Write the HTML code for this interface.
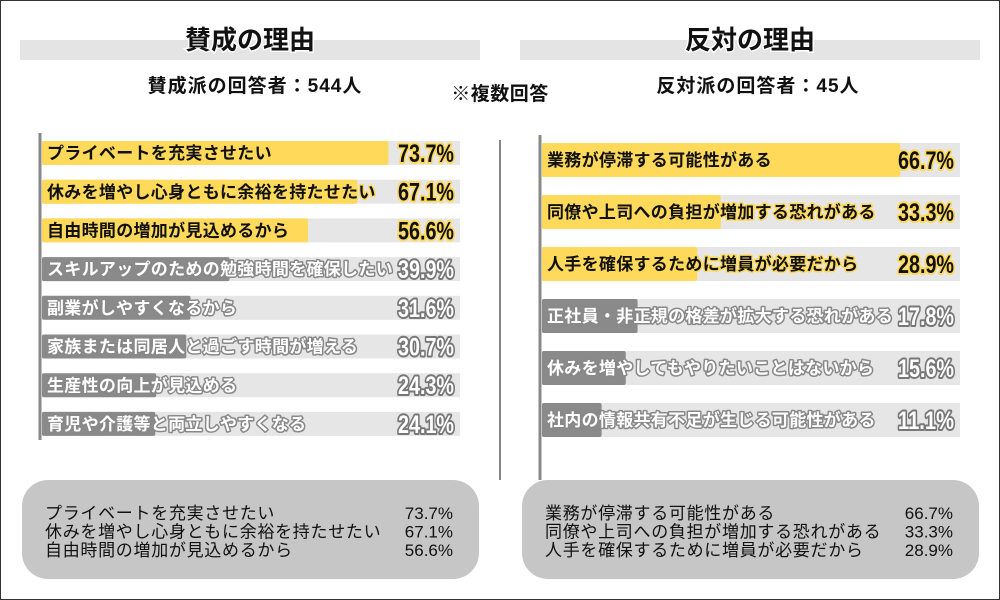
<!DOCTYPE html>
<html><head><meta charset="utf-8"><style>
body{margin:0;background:#fff}
svg{display:block}
text{font-family:"Liberation Sans","Noto Sans CJK JP",sans-serif}
.pct{font-family:"Liberation Sans","Noto Sans CJK JP",sans-serif;font-weight:bold;paint-order:stroke;stroke-linejoin:round}
</style></head><body>
<svg id="chart" width="1000" height="600" viewBox="0 0 1000 600">
<rect x="0.5" y="0.5" width="999" height="599" fill="#fff" stroke="#333"/>
<rect x="20" y="40" width="460" height="20" fill="#e4e4e4"/>
<rect x="520" y="40" width="460" height="20" fill="#e4e4e4"/>
<text x="250" y="49" text-anchor="middle" font-size="26" font-weight="bold" fill="#111" stroke="#fff" stroke-width="3" paint-order="stroke">賛成の理由</text>
<text x="750" y="49" text-anchor="middle" font-size="26" font-weight="bold" fill="#111" stroke="#fff" stroke-width="3" paint-order="stroke">反対の理由</text>
<text x="255" y="92" text-anchor="middle" font-size="19" letter-spacing="1" font-weight="bold" fill="#111">賛成派の回答者：544人</text>
<text x="758" y="92" text-anchor="middle" font-size="19" letter-spacing="1" font-weight="bold" fill="#111">反対派の回答者：45人</text>
<text x="500" y="100" text-anchor="middle" font-size="19" letter-spacing="0.5" font-weight="bold" fill="#111">※複数回答</text>
<line x1="40" y1="133" x2="40" y2="440" stroke="#888" stroke-width="3"/>
<line x1="540" y1="135" x2="540" y2="480" stroke="#888" stroke-width="3"/>
<line x1="500" y1="140" x2="500" y2="480" stroke="#888" stroke-width="2"/>
<g id="left"></g><g id="right"></g>
<rect x="22" y="480" width="457" height="99" rx="26" fill="#c6c6c6"/>
<rect x="522" y="480" width="457" height="99" rx="26" fill="#c6c6c6"/>
<g id="sum"></g>
</svg>
<script>
const leftCats=["プライベートを充実させたい","休みを増やし心身ともに余裕を持たせたい","自由時間の増加が見込めるから","スキルアップのための勉強時間を確保したい","副業がしやすくなるから","家族または同居人と過ごす時間が増える","生産性の向上が見込める","育児や介護等と両立しやすくなる"];
const leftVals=[73.7,67.1,56.6,39.9,31.6,30.7,24.3,24.1];
const rightCats=["業務が停滞する可能性がある","同僚や上司への負担が増加する恐れがある","人手を確保するために増員が必要だから","正社員・非正規の格差が拡大する恐れがある","休みを増やしてもやりたいことはないから","社内の情報共有不足が生じる可能性がある"];
const rightVals=[66.7,33.3,28.9,17.8,15.6,11.1];
const NS="http://www.w3.org/2000/svg";
function mk(p,tag,a,txt){const e=document.createElementNS(NS,tag);for(const k in a)e.setAttribute(k,a[k]);if(txt!==undefined)e.textContent=txt;p.appendChild(e);return e;}
function draw(gid,cats,vals,x0,x1,y0,step,h,scale,fs,pfs,side){
  const g=document.getElementById(gid);
  const xs=v=>x0+v*scale;
  cats.forEach((c,i)=>{
    const y=y0+i*step, top=i<3;
    const tr=mk(g,'rect',{x:x0,y:y,width:x1-x0,height:h,fill:'#e6e6e6'});
    
    
    const b=mk(g,'rect',{x:x0,y:y,width:xs(vals[i])-x0,height:h,rx:2,fill:top?'#fed95a':'#8a8a8a'});
    
    
    const t=mk(g,'text',{x:x0+5,y:y+h/2+fs*0.36,'font-size':fs,'letter-spacing':0.3,'font-weight':'bold',fill:top?'#111':'#fff',stroke:top?'#fed95a':'#888','stroke-width':3,'paint-order':'stroke','stroke-linejoin':'round'},c);
    
    
    const p=mk(g,'text',{class:'pct',x:x1-62,y:y+h/2+pfs*0.36,'font-size':pfs,textLength:56,lengthAdjust:'spacingAndGlyphs',fill:top?'#111':'#fff',stroke:top?'#fed95a':'#777','stroke-width':4},vals[i].toFixed(1)+'%');
    
    
  });
}
draw('left',leftCats,leftVals,42,460,141,38.7,24,4.7,17,25,'left');
draw('right',rightCats,rightVals,542,960,143,52,34,5.37,17,25,'right');
const s=document.getElementById('sum');
[[leftCats,leftVals,45,453,'left'],[rightCats,rightVals,545,953,'right']].forEach(([c,v,xa,xb,side])=>{
  for(let i=0;i<3;i++){
    const y=519+i*18.5;
    const a=mk(s,'text',{x:xa,y:y,'font-size':17,'letter-spacing':0.7,fill:'#111'},c[i]);
    
    
    const b=mk(s,'text',{x:xb,y:y,'font-size':17,fill:'#111','text-anchor':'end'},v[i].toFixed(1)+'%');
    
    
  }
});
</script>
</body></html>
